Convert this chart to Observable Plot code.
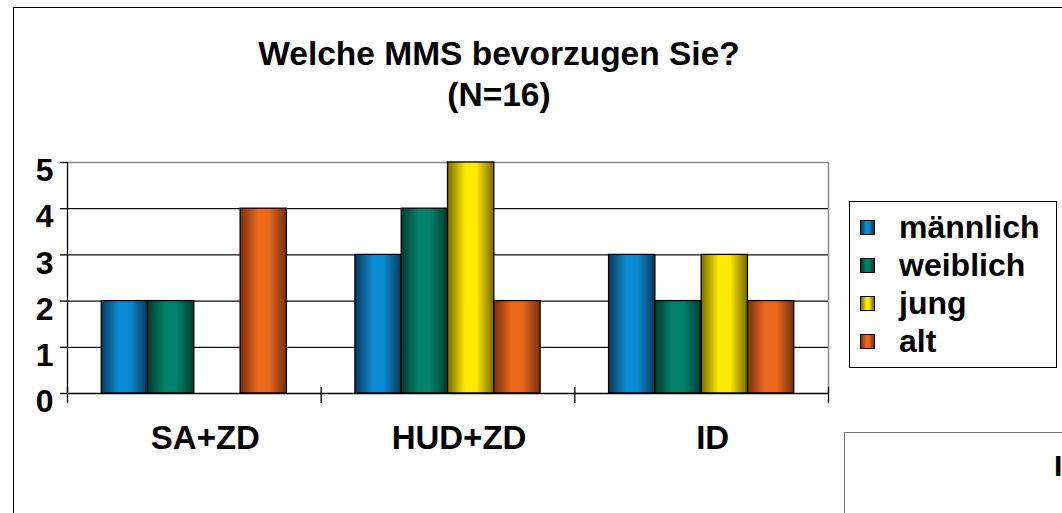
<!DOCTYPE html>
<html>
<head>
<meta charset="utf-8">
<script src="https://cdn.jsdelivr.net/npm/d3@7"></script>
<script src="https://cdn.jsdelivr.net/npm/@observablehq/plot@0.6"></script>
<style>
  html, body { margin: 0; padding: 0; background: #fff; }
  body { font-family: "Liberation Sans", Arial, sans-serif; }
  #wrap { position: relative; width: 1062px; height: 513px; overflow: hidden; background: #fff; }
  #outer { position: absolute; left: 13px; top: 7px; width: 1200px; height: 700px; border: 1.5px solid #000; box-sizing: border-box; }
  #chart { position: absolute; left: 0; top: 0; }
  #title { position: absolute; left: 0; top: 33px; width: 998px; text-align: center; font-weight: bold; font-size: 33.5px; line-height: 41px; color: #000; }
  #legend { position: absolute; left: 849px; top: 201px; width: 208px; height: 167px; border: 1px solid #000; box-sizing: border-box; background: #fff; }
  .item { position: absolute; left: 10px; height: 38px; display: flex; align-items: center; font-weight: bold; font-size: 32px; color: #000; }
  .sw { width: 13px; height: 13px; border: 1px solid #000; margin-right: 24px; }
  #box2 { position: absolute; left: 844px; top: 432px; width: 400px; height: 200px; border: 1px solid #777; box-sizing: border-box; }
  #box2 span { position: absolute; left: 209px; top: 16px; font-weight: bold; font-size: 30px; }
</style>
</head>
<body>
<div id="wrap">
  <div id="outer"></div>
  <div id="chart"></div>
  <div id="title">Welche MMS bevorzugen Sie?<br>(N=16)</div>
  <div id="legend"></div>
  <div id="box2"><span>I</span></div>
</div>
<script>
// ---- data ----
const categories = ["SA+ZD", "HUD+ZD", "ID"];
const seriesNames = ["männlich", "weiblich", "jung", "alt"];
const maennlich = [2, 3, 3];
const weiblich = [2, 4, 2];
const jung = [0, 5, 3];
const alt = [4, 2, 2];
const yTicks = [0, 1, 2, 3, 4, 5];
const seriesBright = ["#0b8bd3", "#00836a", "#ffea00", "#ec681c"];
const seriesDark = ["#0a3858", "#013a2e", "#786b00", "#77300e"];

const seriesValues = [maennlich, weiblich, jung, alt];
const rows = [];
seriesValues.forEach((vals, si) => {
  vals.forEach((v, ci) => rows.push({category: categories[ci], ci, series: seriesNames[si], si, value: v}));
});

const GROUP_PAD = 0.135;
const BAR = (1 - 2 * GROUP_PAD) / seriesNames.length;
const boundaries = d3.range(categories.length + 1);
const centers = categories.map((c, i) => i + 0.5);

const plot = Plot.plot({
  width: 1062,
  height: 513,
  marginLeft: 67,
  marginRight: 234,
  marginTop: 162,
  marginBottom: 120,
  style: {fontFamily: "'Liberation Sans', Arial, sans-serif", background: "transparent", overflow: "visible"},
  x: {type: "linear", domain: [0, categories.length], axis: null},
  y: {type: "linear", domain: [0, 5], axis: null},
  marks: [
    Plot.ruleY(yTicks.filter(d => d > 0 && d < 5), {stroke: "#111", strokeWidth: 1.3}),
    Plot.ruleY([5], {stroke: "#888", strokeWidth: 1.3}),
    Plot.ruleX([categories.length], {stroke: "#888", strokeWidth: 1.5}),
    ...seriesNames.map((s, si) =>
      Plot.rectY(rows.filter(d => d.si === si && d.value > 0), {
        x1: d => d.ci + GROUP_PAD + d.si * BAR,
        x2: d => d.ci + GROUP_PAD + (d.si + 1) * BAR,
        y1: () => 0,
        y2: "value",
        fill: `url(#grad${si})`,
        stroke: "#000",
        strokeWidth: 1.3
      })
    ),
    Plot.ruleY([0], {stroke: "#000", strokeWidth: 1.3}),
    Plot.ruleX([0], {stroke: "#000", strokeWidth: 1.3}),
    Plot.ruleX(boundaries, {x: d => d, y1: () => 0, y2: () => 0, insetTop: -6, insetBottom: -10, stroke: "#000", strokeWidth: 1.3}),
    Plot.ruleY(yTicks, {y: d => d, x1: () => 0, x2: () => 0, insetLeft: -7, stroke: "#000", strokeWidth: 1.3}),
    Plot.text(yTicks, {y: d => d, frameAnchor: "left", dx: -14, dy: 8.5, textAnchor: "end", fontSize: 32, fontWeight: "bold", fill: "#000"}),
    Plot.text(categories, {x: (d, i) => centers[i], frameAnchor: "bottom", dx: 11, dy: 55, fontSize: 33, fontWeight: "bold", fill: "#000"})
  ]
});

// gradients for the 3D-looking bars
const ns = "http://www.w3.org/2000/svg";
const defs = document.createElementNS(ns, "defs");
seriesNames.forEach((s, i) => {
  const g = document.createElementNS(ns, "linearGradient");
  g.setAttribute("id", `grad${i}`);
  g.setAttribute("x1", "0"); g.setAttribute("x2", "1");
  g.setAttribute("y1", "0"); g.setAttribute("y2", "0");
  [[0, seriesDark[i]], [0.38, seriesBright[i]], [0.62, seriesBright[i]], [1, seriesDark[i]]].forEach(([o, c]) => {
    const st = document.createElementNS(ns, "stop");
    st.setAttribute("offset", o);
    st.setAttribute("stop-color", c);
    g.appendChild(st);
  });
  defs.appendChild(g);
});
plot.insertBefore(defs, plot.firstChild);
document.getElementById("chart").appendChild(plot);

// legend
const legend = document.getElementById("legend");
seriesNames.forEach((s, i) => {
  const it = document.createElement("div");
  it.className = "item";
  it.style.top = (6 + i * 38.3) + "px";
  const sw = document.createElement("div");
  sw.className = "sw";
  sw.style.background = `linear-gradient(to right, ${seriesDark[i]}, ${seriesBright[i]} 40%, ${seriesBright[i]} 60%, ${seriesDark[i]})`;
  it.appendChild(sw);
  const t = document.createElement("span");
  t.textContent = s;
  it.appendChild(t);
  legend.appendChild(it);
});
</script>
</body>
</html>
